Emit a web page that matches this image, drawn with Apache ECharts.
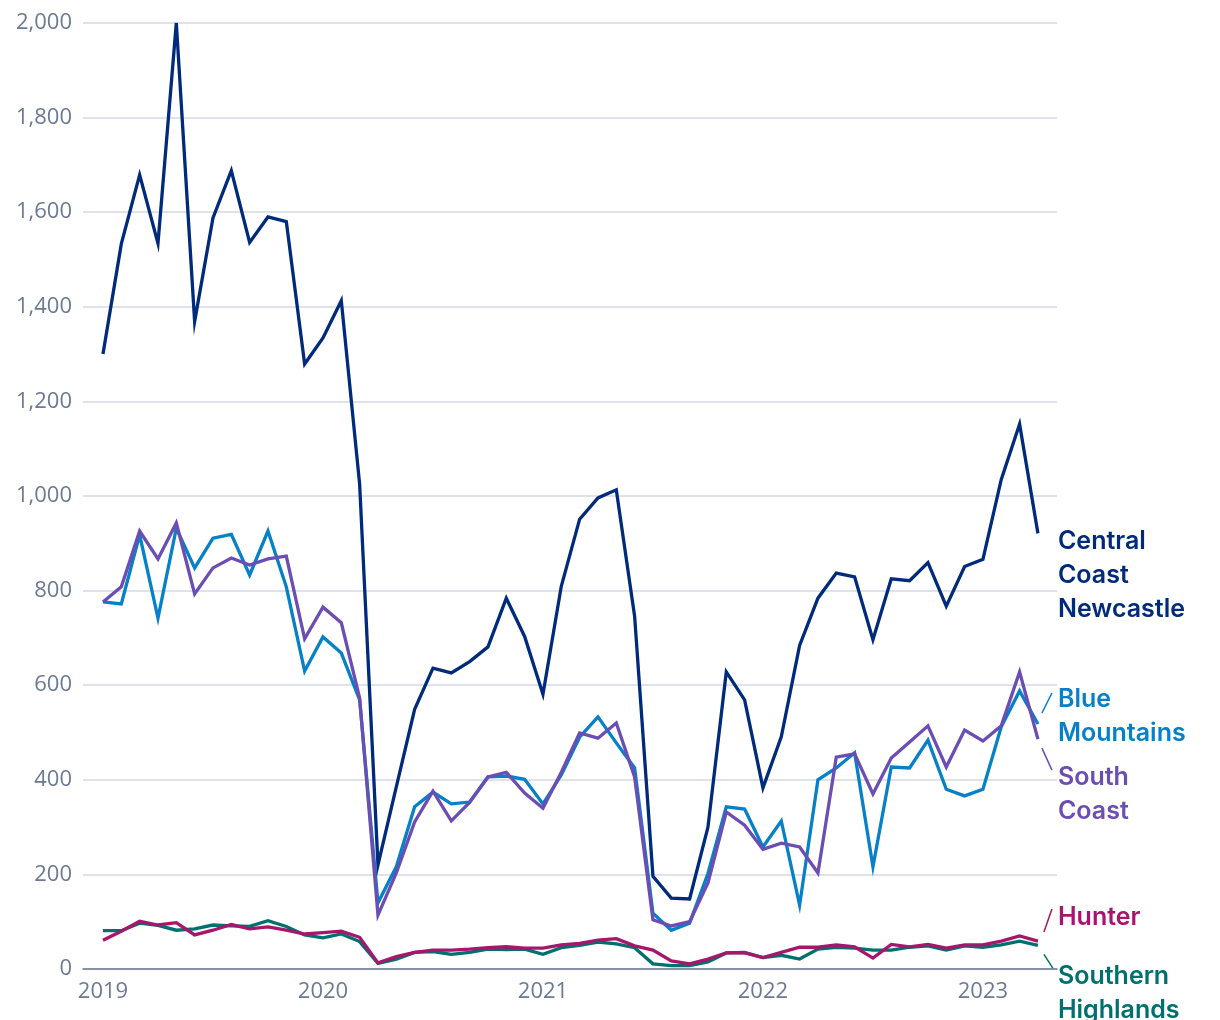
<!DOCTYPE html>
<html>
<head>
<meta charset="utf-8">
<script src="https://cdn.jsdelivr.net/npm/echarts@6/dist/echarts.min.js"></script>
<style>
html,body{margin:0;padding:0;background:#fff;}
#c{width:1220px;height:1020px;}
</style>
</head>
<body>
<div id="c"></div>
<script>
// Monthly values, Jan 2019 .. Apr 2023
const startYear = 2019;
const yearTicks = ['2019', '2020', '2021', '2022', '2023'];
const yTicks = [0, 200, 400, 600, 800, 1000, 1200, 1400, 1600, 1800, 2000];

const centralCoastNewcastle = [1300,1533,1679,1534,2000,1369,1588,1688,1536,1590,1580,1279,1334,1413,1025,220,385,549,636,626,650,681,784,703,581,809,951,996,1013,746,196,150,148,300,628,569,383,491,684,784,837,829,696,825,821,859,767,851,866,1035,1152,921];
const blueMountains = [776,772,918,742,932,848,911,919,833,926,808,630,702,668,569,140,216,343,374,349,353,406,408,401,349,410,490,533,478,425,118,82,97,202,343,338,258,313,135,400,425,457,216,427,425,484,380,366,380,512,588,518];
const southCoast = [776,808,926,867,943,793,848,869,854,867,873,698,765,732,573,114,203,311,376,313,352,406,416,372,340,416,499,488,520,406,104,91,100,182,332,304,253,266,258,203,448,455,370,446,480,514,427,505,482,514,628,486];
const hunter = [61,80,101,93,98,72,82,94,85,89,82,74,77,80,67,13,26,35,40,40,42,45,47,44,44,51,54,61,64,49,40,17,11,21,34,34,24,35,46,46,51,47,23,52,47,52,44,51,51,59,70,59];
const southernHighlands = [81,81,97,92,82,85,93,91,90,102,90,72,66,74,58,12,21,35,37,31,35,42,41,42,31,45,50,57,53,45,11,7,7,15,34,35,24,29,21,42,46,44,40,40,46,49,40,49,46,51,59,50];

const seriesDefs = [
  {name: 'Southern\nHighlands', data: southernHighlands, color: '#00706e', dy: 48, slash: [6, 9, 15, 23]},
  {name: 'Hunter', data: hunter, color: '#a5166c', dy: -24, slash: [6, -9, 14, -32]},
  {name: 'Blue\nMountains', data: blueMountains, color: '#0680c6', dy: -8, slash: [4, -11, 14, -31]},
  {name: 'South\nCoast', data: southCoast, color: '#6b4db4', dy: 55, slash: [4, 9, 14, 31]},
  {name: 'Central\nCoast\nNewcastle', data: centralCoastNewcastle, color: '#002a7c', dy: 42, slash: null}
];

const chart = echarts.init(document.getElementById('c'), null, {renderer: 'canvas'});

const series = seriesDefs.map(s => ({
  type: 'line',
  name: s.name,
  data: s.data.map((v, i) => [i, v]),
  showSymbol: false,
  symbol: 'none',
  animation: false,
  lineStyle: {color: s.color, width: 3.3, join: 'miter'},
  itemStyle: {color: s.color},
  endLabel: {
    show: true,
    formatter: s.name,
    color: s.color,
    fontFamily: 'Inter',
    fontWeight: 600,
    fontSize: 25,
    lineHeight: 34,
    align: 'left',
    verticalAlign: 'middle',
    distance: 0,
    offset: [20, s.dy]
  }
}));

chart.setOption({
  animation: false,
  backgroundColor: '#ffffff',
  grid: {left: 83, right: 163, top: 23, bottom: 51, containLabel: false, outerBoundsMode: 'none'},
  xAxis: {
    type: 'value',
    min: -1.09,
    max: 52.04,
    axisLine: {show: true, lineStyle: {color: '#6b7790', width: 1.5}},
    axisTick: {show: false},
    splitLine: {show: false},
    axisLabel: {
      customValues: yearTicks.map((t, k) => k * 12),
      formatter: v => String(startYear + Math.round(v / 12)),
      color: '#6b7a92',
      fontFamily: 'Open Sans',
      fontSize: 22,
      margin: 12
    }
  },
  yAxis: {
    type: 'value',
    min: yTicks[0],
    max: yTicks[yTicks.length - 1],
    interval: 200,
    axisLine: {show: false},
    axisTick: {show: false},
    splitLine: {show: true, lineStyle: {color: '#d5d9e3', width: 1.5}},
    axisLabel: {
      formatter: v => v.toLocaleString('en-US'),
      color: '#6b7a92',
      fontFamily: 'Open Sans',
      fontSize: 22,
      margin: 11
    }
  },
  series: series
});

// leader slashes next to end labels, positioned from the last data point
const graphics = [];
seriesDefs.forEach((s, idx) => {
  if (!s.slash) return;
  const last = s.data.length - 1;
  const p = chart.convertToPixel({seriesIndex: idx}, [last, s.data[last]]);
  graphics.push({
    type: 'line',
    shape: {x1: p[0] + s.slash[0], y1: p[1] + s.slash[1], x2: p[0] + s.slash[2], y2: p[1] + s.slash[3]},
    style: {stroke: s.color, lineWidth: 1.5},
    silent: true
  });
});
chart.setOption({graphic: graphics});
</script>
</body>
</html>
